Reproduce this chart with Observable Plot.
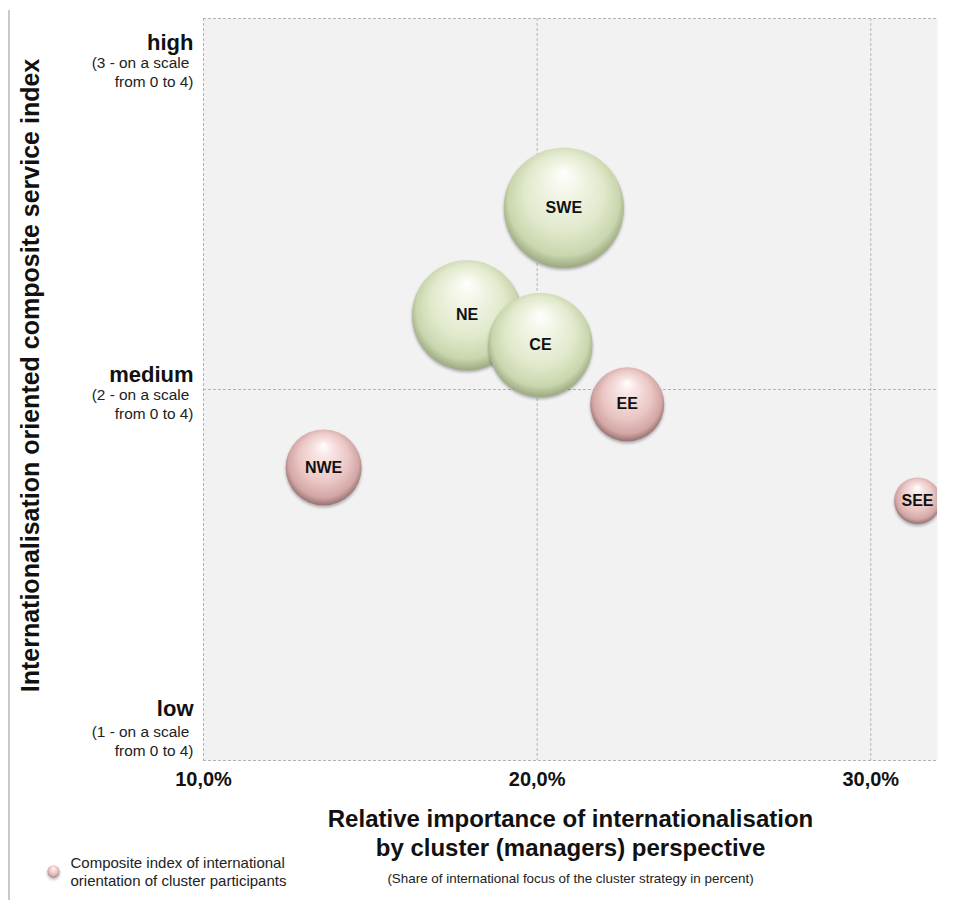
<!DOCTYPE html>
<html>
<head>
<meta charset="utf-8">
<script src="https://cdn.jsdelivr.net/npm/d3@7"></script>
<script src="https://cdn.jsdelivr.net/npm/@observablehq/plot@0.6"></script>
<style>
  html, body { margin: 0; padding: 0; background: #fff; }
  #wrap { position: relative; width: 962px; height: 900px; }
  #edge { position: absolute; left: 8px; top: 10px; width: 2px; height: 890px; background: #c9c9c9; }
  svg { font-family: "Liberation Sans", Arial, sans-serif; }
</style>
</head>
<body>
<div id="wrap"><div id="edge"></div></div>
<script>
// ---- data ----
const regions = ["SWE", "NE", "CE", "EE", "NWE", "SEE"];
const share   = [20.8, 17.9, 20.1, 22.7, 13.6, 31.4];   // % international focus
const index   = [2.49, 2.20, 2.12, 1.96, 1.79, 1.70];   // composite service index
const size    = [100, 84, 75, 38, 40, 15];              // bubble size
const group   = ["managers", "managers", "managers", "participants", "participants", "participants"];

const xTickValues = [10, 20, 30];
const yTickValues = [3, 2, 1];
const yTickNames  = ["high", "medium", "low"];
const yTickNotes  = ["(3 - on a scale\u00a0\nfrom 0 to 4)", "(2 - on a scale\u00a0\nfrom 0 to 4)", "(1 - on a scale\u00a0\nfrom 0 to 4)"];

const xTitle = "Relative importance of internationalisation\nby cluster (managers) perspective";
const xNote  = "(Share of international focus of the cluster strategy in percent)";
const yTitle = "Internationalisation oriented composite service index";
const legendText = "Composite index of international\norientation of cluster participants";

const data = regions.map((r, i) => ({region: r, share: share[i], index: index[i], size: size[i], group: group[i]}));
const yTicks = yTickValues.map((v, i) => ({value: v, name: yTickNames[i], note: yTickNotes[i]}));
const fmtPct = d => d3.format(".1f")(d).replace(".", ",") + "%";

// per-tick vertical offsets of the y labels (style)
const nameDy = {3: 24, 2: -15, 1: -52};
const noteDy = {3: 53, 2: 14, 1: -20};

const marks = [
  Plot.frame({fill: "#f2f2f2", stroke: null}),
  Plot.ruleX([20, 30], {stroke: "#b3b3b3", strokeDasharray: "3,2", strokeWidth: 1}),
  Plot.ruleX([10], {stroke: "#b3b3b3", strokeDasharray: "3,2", strokeWidth: 1}),
  Plot.ruleY([1, 2, 3], {stroke: "#b3b3b3", strokeDasharray: "3,2", strokeWidth: 1}),
  Plot.dot(data, {x: "share", y: "index", r: "size", fill: "group", stroke: null, clip: true}),
  Plot.text(data, {x: "share", y: "index", text: "region", fontSize: 16, fontWeight: "bold", fill: "#111", clip: true}),
  // x tick labels
  Plot.text(xTickValues, {x: d => d, frameAnchor: "bottom", dy: 25, text: fmtPct, fontSize: 20, fontWeight: "bold", fill: "#111"}),
  // x title
  Plot.text([xTitle], {frameAnchor: "bottom", dy: 71.5, lineAnchor: "middle", lineHeight: 1.21, fontSize: 24, fontWeight: "bold", fill: "#111"}),
  Plot.text([xNote], {frameAnchor: "bottom", dy: 122, fontSize: 13.4, fill: "#222"}),
  // y title
  Plot.text([yTitle], {frameAnchor: "left", dx: -173, dy: -14, rotate: -90, textAnchor: "middle", fontSize: 25, fontWeight: "bold", fill: "#111"}),
  // legend
  Plot.dot([0], {frameAnchor: "bottom-left", dx: -150, dy: 111, r: 6, fill: "url(#gradPink)", stroke: null}),
  Plot.text([legendText], {frameAnchor: "bottom-left", dx: -133, dy: 111, textAnchor: "start", lineAnchor: "middle", lineHeight: 1.2, fontSize: 15, fill: "#222"})
];
// y tick labels, one pair per tick
for (const t of yTicks) {
  marks.push(Plot.text([t], {y: "value", frameAnchor: "left", dx: -10, dy: nameDy[t.value], text: "name", textAnchor: "end", fontSize: 22, fontWeight: "bold", fill: "#111"}));
  marks.push(Plot.text([t], {y: "value", frameAnchor: "left", dx: -10, dy: noteDy[t.value], text: "note", textAnchor: "end", lineAnchor: "middle", lineHeight: 1.2, fontSize: 15.4, fill: "#222"}));
}

const chart = Plot.plot({
  width: 962,
  height: 900,
  marginLeft: 203,
  marginRight: 25,
  marginTop: 18,
  marginBottom: 140,
  style: {fontFamily: "'Liberation Sans', Arial, sans-serif", background: "transparent"},
  x: {domain: [10, 32], axis: null},
  y: {domain: [1, 3], axis: null},
  r: {type: "sqrt", domain: [0, 100], range: [0, 60]},
  color: {type: "ordinal", domain: ["managers", "participants"], range: ["url(#gradGreen)", "url(#gradPink)"]},
  marks
});

// gradient definitions
const svg = d3.select(chart);
const defs = svg.insert("defs", ":first-child");
function grad(id, stops) {
  const g = defs.append("radialGradient").attr("id", id)
    .attr("cx", "50%").attr("cy", "48%").attr("r", "55%").attr("fx", "50%").attr("fy", "20%");
  stops.forEach(([o, c]) => g.append("stop").attr("offset", o).attr("stop-color", c));
}
grad("gradGreen", [["0", "#ffffff"], ["0.2", "#f4f7ea"], ["0.6", "#e0e9cb"], ["0.84", "#cad6ae"], ["1", "#8e9d72"]]);
grad("gradPink",  [["0", "#ffffff"], ["0.2", "#f8e6e5"], ["0.6", "#eac6c4"], ["0.84", "#d2a7a5"], ["1", "#866361"]]);
svg.selectAll("g[aria-label=dot] circle").style("filter", "drop-shadow(0px 2px 1.5px rgba(0,0,0,0.3))");

document.getElementById("wrap").appendChild(chart);
</script>
</body>
</html>
